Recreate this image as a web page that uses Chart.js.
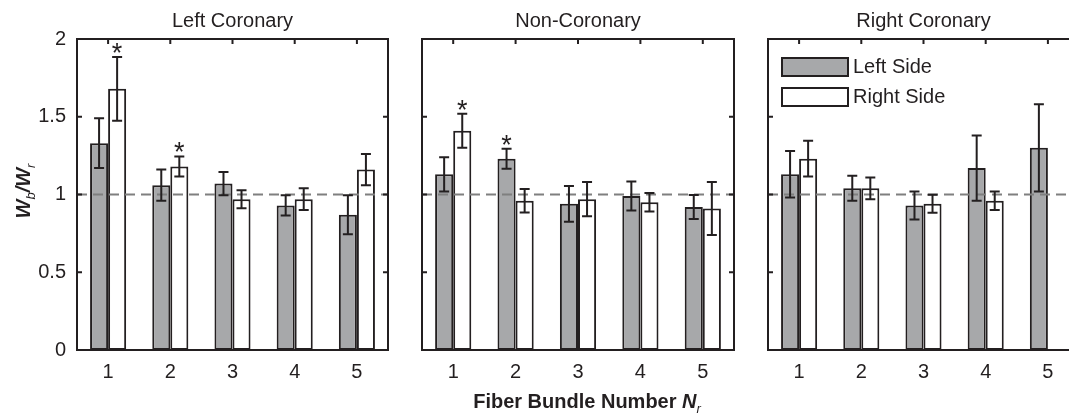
<!DOCTYPE html>
<html>
<head>
<meta charset="utf-8">
<script src="https://cdn.jsdelivr.net/npm/chart.js@4"></script>
<style>
  html, body { margin: 0; padding: 0; background: #fff; overflow: hidden; width: 1069px; height: 419px; }
  .panel { position: absolute; top: 0; height: 419px; overflow: hidden; }
  canvas { display: block; }
</style>
</head>
<body>
<div class="panel" style="left:0px;width:400px"><canvas id="c1" width="400" height="419"></canvas></div>
<div class="panel" style="left:400px;width:345px"><canvas id="c2" width="345" height="419"></canvas></div>
<div class="panel" style="left:745px;width:324px"><canvas id="c3" width="340" height="419"></canvas></div>
<script>
// data
const categories = ['1', '2', '3', '4', '5'];
const seriesNames = ['Left Side', 'Right Side'];
const panelTitles = ['Left Coronary', 'Non-Coronary', 'Right Coronary'];
const yTicks = [0, 0.5, 1, 1.5, 2];

const leftCorLeft = [1.33, 1.06, 1.07, 0.93, 0.87];
const leftCorLeftErr = [0.16, 0.10, 0.075, 0.065, 0.125];
const leftCorRight = [1.68, 1.18, 0.97, 0.97, 1.16];
const leftCorRightErr = [0.205, 0.065, 0.058, 0.07, 0.10];
const leftCorLeftStars = [0, 0, 0, 0, 0];
const leftCorRightStars = [1, 1, 0, 0, 0];

const nonCorLeft = [1.13, 1.23, 0.94, 0.99, 0.92];
const nonCorLeftErr = [0.11, 0.065, 0.115, 0.093, 0.077];
const nonCorRight = [1.41, 0.96, 0.97, 0.95, 0.91];
const nonCorRightErr = [0.11, 0.076, 0.11, 0.06, 0.17];
const nonCorLeftStars = [0, 1, 0, 0, 0];
const nonCorRightStars = [1, 0, 0, 0, 0];

const rightCorLeft = [1.13, 1.04, 0.93, 1.17, 1.30];
const rightCorLeftErr = [0.15, 0.08, 0.09, 0.21, 0.28];
const rightCorRight = [1.23, 1.04, 0.94, 0.96, null];
const rightCorRightErr = [0.115, 0.07, 0.058, 0.06, null];
const rightCorLeftStars = [0, 0, 0, 0, 0];
const rightCorRightStars = [0, 0, 0, 0, 0];

const referenceLine = 1;

const FONT = '"Liberation Sans", Arial, Helvetica, sans-serif';
const INK = '#231f20';
const GRAY = '#a7a8aa';

// draws error bars, stars, the frame, ticks and the panel texts
function decoPlugin(title, extra) {
  return {
    id: 'deco',
    afterDatasetsDraw(chart) {
      const ctx = chart.ctx;
      const area = chart.chartArea;
      const x = chart.scales.x, y = chart.scales.y;
      ctx.save();

      // dashed reference line
      ctx.strokeStyle = '#7f7f7f';
      ctx.lineWidth = 2;
      ctx.setLineDash([10, 6]);
      ctx.beginPath();
      ctx.moveTo(area.left, y.getPixelForValue(referenceLine));
      ctx.lineTo(area.right, y.getPixelForValue(referenceLine));
      ctx.stroke();
      ctx.setLineDash([]);

      // error bars + asterisks
      chart.data.datasets.forEach((ds, i) => {
        const meta = chart.getDatasetMeta(i);
        meta.data.forEach((bar, j) => {
          const v = ds.data[j], e = ds.err[j];
          if (v == null || e == null) return;
          const top = y.getPixelForValue(v + e);
          const bot = y.getPixelForValue(v - e);
          ctx.strokeStyle = INK;
          ctx.lineWidth = 2;
          ctx.beginPath();
          ctx.moveTo(bar.x, top); ctx.lineTo(bar.x, bot);
          ctx.moveTo(bar.x - 5, top); ctx.lineTo(bar.x + 5, top);
          ctx.moveTo(bar.x - 5, bot); ctx.lineTo(bar.x + 5, bot);
          ctx.stroke();
          if (ds.stars[j]) {
            ctx.fillStyle = INK;
            ctx.font = '27px ' + FONT;
            ctx.textAlign = 'center';
            ctx.textBaseline = 'alphabetic';
            ctx.fillText('*', bar.x, top + 5);
          }
        });
      });

      // frame
      ctx.strokeStyle = INK;
      ctx.lineWidth = 2;
      ctx.strokeRect(area.left, area.top, area.right - area.left, area.bottom - area.top);

      // inward ticks
      ctx.beginPath();
      yTicks.slice(1, -1).forEach(t => {
        const py = y.getPixelForValue(t);
        ctx.moveTo(area.left, py); ctx.lineTo(area.left + 5, py);
        ctx.moveTo(area.right, py); ctx.lineTo(area.right - 5, py);
      });
      categories.forEach((c, k) => {
        const px = x.getPixelForValue(k);
        ctx.moveTo(px, area.top); ctx.lineTo(px, area.top + 5);
      });
      ctx.stroke();

      // panel title
      ctx.fillStyle = INK;
      ctx.font = '20px ' + FONT;
      ctx.textAlign = 'center';
      ctx.textBaseline = 'alphabetic';
      ctx.fillText(title, (area.left + area.right) / 2, 27);

      if (extra) extra(chart, ctx);
      ctx.restore();
    }
  };
}

// writes a run of [text, font, baselineShift] pieces starting at x
function drawRuns(ctx, runs, x, y) {
  runs.forEach(r => {
    ctx.font = r[1];
    ctx.fillText(r[0], x, y + r[2]);
    x += ctx.measureText(r[0]).width;
  });
}
function runsWidth(ctx, runs) {
  let w = 0;
  runs.forEach(r => { ctx.font = r[1]; w += ctx.measureText(r[0]).width; });
  return w;
}

function yTitle(chart, ctx) {
  const runs = [
    ['W', 'bold italic 20px ' + FONT, 0],
    ['b', 'italic 13px ' + FONT, 5],
    ['/W', 'bold italic 20px ' + FONT, 0],
    ['r', 'italic 13px ' + FONT, 5]
  ];
  ctx.save();
  ctx.translate(30, 191);
  ctx.rotate(-Math.PI / 2);
  ctx.fillStyle = INK;
  ctx.textAlign = 'left';
  ctx.textBaseline = 'alphabetic';
  drawRuns(ctx, runs, -runsWidth(ctx, runs) / 2, 0);
  ctx.restore();
}

function xTitle(chart, ctx) {
  const runs = [
    ['Fiber Bundle Number ', 'bold 20px ' + FONT, 0],
    ['N', 'bold italic 20px ' + FONT, 0],
    ['r', 'italic 13px ' + FONT, 5]
  ];
  ctx.fillStyle = INK;
  ctx.textAlign = 'left';
  ctx.textBaseline = 'alphabetic';
  drawRuns(ctx, runs, 187 - runsWidth(ctx, runs) / 2, 408);
}

function legendBox(chart, ctx) {
  chart.data.datasets.forEach((ds, i) => {
    const top = 58 + i * 30;
    ctx.fillStyle = ds.backgroundColor;
    ctx.fillRect(37, top, 66, 18);
    ctx.strokeStyle = INK;
    ctx.lineWidth = 2;
    ctx.strokeRect(37, top, 66, 18);
    ctx.fillStyle = INK;
    ctx.font = '20px ' + FONT;
    ctx.textAlign = 'left';
    ctx.textBaseline = 'middle';
    ctx.fillText(ds.label, 108, top + 9);
  });
}

function makePanel(id, title, left, leftErr, leftStars, right, rightErr, rightStars, o) {
  const bar = {
    borderColor: INK, borderWidth: 2, borderSkipped: false,
    categoryPercentage: 0.58, barPercentage: 1
  };
  return new Chart(document.getElementById(id), {
    type: 'bar',
    data: {
      labels: categories,
      datasets: [
        Object.assign({ label: seriesNames[0], data: left, err: leftErr, stars: leftStars, backgroundColor: GRAY }, bar),
        Object.assign({ label: seriesNames[1], data: right, err: rightErr, stars: rightStars, backgroundColor: '#ffffff' }, bar)
      ]
    },
    options: {
      responsive: false,
      animation: false,
      layout: { padding: { left: 0, right: o.padRight, top: 39, bottom: 0 } },
      plugins: { legend: { display: false }, tooltip: { enabled: false } },
      scales: {
        x: {
          grid: { display: false, drawTicks: false },
          border: { display: false },
          ticks: { padding: 10, color: INK, font: { family: FONT, size: 20 } },
          afterFit: s => { s.height = 69; }
        },
        y: {
          min: 0, max: 2,
          afterBuildTicks: s => { s.ticks = yTicks.map(v => ({ value: v })); },
          grid: { display: false, drawTicks: false },
          border: { display: false },
          ticks: {
            display: o.yLabels, padding: 11, color: INK, font: { family: FONT, size: 20 },
            callback: v => String(v)
          },
          afterFit: s => { s.width = o.axisW; }
        }
      }
    },
    plugins: [decoPlugin(title, o.extra)]
  });
}

makePanel('c1', panelTitles[0], leftCorLeft, leftCorLeftErr, leftCorLeftStars,
  leftCorRight, leftCorRightErr, leftCorRightStars,
  { axisW: 77, padRight: 12, yLabels: true, extra: yTitle });
makePanel('c2', panelTitles[1], nonCorLeft, nonCorLeftErr, nonCorLeftStars,
  nonCorRight, nonCorRightErr, nonCorRightStars,
  { axisW: 22, padRight: 11, yLabels: false, extra: xTitle });
makePanel('c3', panelTitles[2], rightCorLeft, rightCorLeftErr, rightCorLeftStars,
  rightCorRight, rightCorRightErr, rightCorRightStars,
  { axisW: 23, padRight: 6, yLabels: false, extra: legendBox });
</script>
</body>
</html>
